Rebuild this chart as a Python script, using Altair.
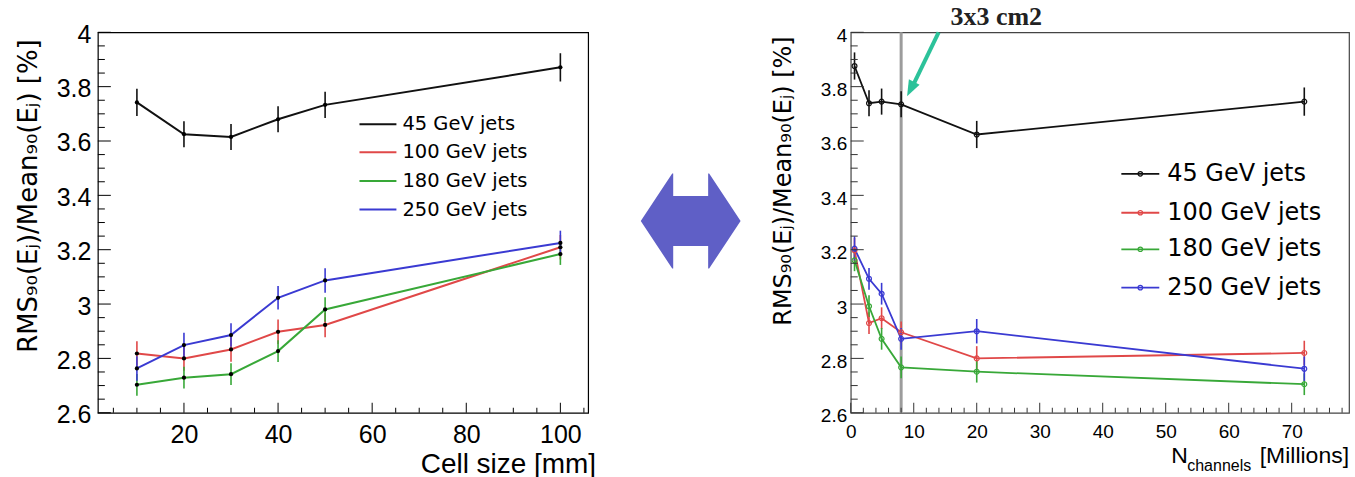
import altair as alt
import pandas as pd

FONT = "DejaVu Sans"
TICKFONT = "Liberation Sans"

# ---------------- data ----------------
series = ["45 GeV jets", "100 GeV jets", "180 GeV jets", "250 GeV jets"]
colors = ["#111111", "#e04848", "#38a838", "#3a3ad2"]

cell_size = [10, 20, 30, 40, 50, 100]
left_45 = [3.742, 3.625, 3.615, 3.680, 3.733, 3.871]
left_100 = [2.818, 2.800, 2.833, 2.898, 2.923, 3.209]
left_180 = [2.703, 2.729, 2.742, 2.827, 2.980, 3.184]
left_250 = [2.763, 2.849, 2.886, 3.023, 3.087, 3.225]
left_err_45 = [0.050, 0.048, 0.048, 0.048, 0.048, 0.052]
left_err_100 = [0.045, 0.045, 0.045, 0.045, 0.045, 0.045]
left_err_180 = [0.040, 0.040, 0.040, 0.040, 0.045, 0.040]
left_err_250 = [0.045, 0.045, 0.043, 0.043, 0.045, 0.045]

n_channels = [0.6, 2.9, 4.9, 8.0, 20.0, 72.0]
right_45 = [3.876, 3.739, 3.745, 3.735, 3.624, 3.745]
right_100 = [3.198, 2.930, 2.948, 2.896, 2.800, 2.820]
right_180 = [3.161, 2.992, 2.872, 2.767, 2.751, 2.705]
right_250 = [3.204, 3.093, 3.038, 2.872, 2.900, 2.762]
right_err_45 = [0.050, 0.048, 0.048, 0.048, 0.050, 0.052]
right_err_100 = [0.045, 0.040, 0.040, 0.040, 0.045, 0.045]
right_err_180 = [0.040, 0.040, 0.040, 0.040, 0.040, 0.040]
right_err_250 = [0.045, 0.040, 0.040, 0.040, 0.045, 0.045]

y_major = [2.6, 2.8, 3.0, 3.2, 3.4, 3.6, 3.8, 4.0]
y_minor = [round(2.6 + 0.05 * i, 2) for i in range(29) if i % 4]
left_x_major = [20, 40, 60, 80, 100]
left_x_minor = [v for v in range(5, 106, 5) if v % 20]
right_x_major = [0, 10, 20, 30, 40, 50, 60, 70]
right_x_minor = [v for v in range(2, 79, 2) if v % 10]

y_title = "RMS\u2089\u2080(E\u2c7c)/Mean\u2089\u2080(E\u2c7c) [%]"

# annotation (data coordinates of the right panel)
marker_line_x = [8.0]
arrow_tail = (13.95, 4.0)
arrow_end = (10.0, 3.81)
arrow_head = (9.51, 3.791)


def long_df(xs, ys, errs):
    rows = []
    for s, yv, ev in zip(series, ys, errs):
        for x, y, e in zip(xs, yv, ev):
            rows.append({"series": s, "x": x, "y": y, "lo": y - e, "hi": y + e})
    return pd.DataFrame(rows)


left_df = long_df(cell_size, [left_45, left_100, left_180, left_250],
                  [left_err_45, left_err_100, left_err_180, left_err_250])
right_df = long_df(n_channels, [right_45, right_100, right_180, right_250],
                   [right_err_45, right_err_100, right_err_180, right_err_250])

one = pd.DataFrame({"a": [0]})
color_enc = alt.Color("series:N", scale=alt.Scale(domain=series, range=colors), legend=None)

W_L, W_R, H = 491, 499, 381
ysc = alt.Scale(domain=[2.6, 4.0], nice=False, zero=False)


def panel(df, xdom, xmajor, xminor, lab_fs, xpad, ypad, yoff, right):
    xsc = alt.Scale(domain=xdom, nice=False, zero=False)
    xaxis = alt.Axis(values=xmajor, ticks=False, domain=False, grid=False, title=None,
                     labelFont=TICKFONT, labelFontSize=lab_fs, labelPadding=xpad,
                     labelColor="black", labelFlush=False, labelOverlap=False)
    yaxis = alt.Axis(values=y_major, format=".1~f", ticks=False, domain=False, grid=False,
                     title=None, labelFont=TICKFONT, labelFontSize=lab_fs, labelPadding=ypad,
                     labelOffset=yoff, labelColor="black", labelFlush=False, labelOverlap=False)
    X = lambda f: alt.X(f, scale=xsc, axis=xaxis)
    Y = lambda f: alt.Y(f, scale=ysc, axis=yaxis)
    base = alt.Chart(df)
    layers = []
    err = base.mark_rule(strokeWidth=1.6).encode(x=X("x:Q"), y=Y("lo:Q"), y2="hi:Q", color=color_enc)
    line = base.mark_line(strokeWidth=2 if not right else 1.8).encode(
        x=X("x:Q"), y=Y("y:Q"), color=color_enc, detail="series:N")
    if right:
        pts = base.mark_point(shape="circle", filled=False, size=24, strokeWidth=1.2, opacity=1).encode(
            x=X("x:Q"), y=Y("y:Q"), color=color_enc)
    else:
        pts = base.mark_circle(size=18, color="black", opacity=1).encode(x=X("x:Q"), y=Y("y:Q"))
    layers += [err, line, pts]
    # inward ticks
    tick_col = "black" if not right else "#333333"
    layers.append(alt.Chart(pd.DataFrame({"v": y_major})).mark_rule(color=tick_col, strokeWidth=1).encode(
        y=Y("v:Q"), x=alt.value(0), x2=alt.value(13)))
    layers.append(alt.Chart(pd.DataFrame({"v": y_minor})).mark_rule(color=tick_col, strokeWidth=1).encode(
        y=Y("v:Q"), x=alt.value(0), x2=alt.value(7)))
    layers.append(alt.Chart(pd.DataFrame({"v": xmajor})).mark_rule(color=tick_col, strokeWidth=1).encode(
        x=X("v:Q"), y=alt.value(H), y2=alt.value(H - 10)))
    layers.append(alt.Chart(pd.DataFrame({"v": xminor})).mark_rule(color=tick_col, strokeWidth=1).encode(
        x=X("v:Q"), y=alt.value(H), y2=alt.value(H - 5)))
    return layers, X, Y


# ---------------- left panel ----------------
L_layers, LX, LY = panel(left_df, [1.7, 105.9], left_x_major, left_x_minor, 25, 10, 7, 2, False)

# legend (left)
leg_rows_L = [92, 120, 149, 177.5]
for s, c, ry in zip(series, colors, leg_rows_L):
    L_layers.append(alt.Chart(one).mark_rule(color=c, strokeWidth=2).encode(
        x=alt.value(262), x2=alt.value(299), y=alt.value(ry)))
    L_layers.append(alt.Chart(one).mark_text(text=s, font=FONT, fontSize=19.5, align="left",
                                             baseline="middle", color="black").encode(
        x=alt.value(305), y=alt.value(ry)))

# axis titles (left)
L_layers.append(alt.Chart(one).mark_text(text=y_title, font=FONT, fontSize=26, angle=270,
                                         align="center", baseline="middle", color="black").encode(
    x=alt.value(-69), y=alt.value(164)))
L_layers.append(alt.Chart(one).mark_text(text="Cell size [mm]", font=TICKFONT, fontSize=28,
                                         align="right", baseline="alphabetic", color="black").encode(
    x=alt.value(W_L + 8), y=alt.value(441)))

# double arrow between panels
dbl = ("M-1,0 L-0.37,-0.95 L-0.35,-0.95 L-0.35,-0.5 L0.35,-0.5 L0.35,-0.95 L0.37,-0.95 "
       "L1,0 L0.37,0.95 L0.35,0.95 L0.35,0.5 L-0.35,0.5 L-0.35,0.95 L-0.37,0.95 Z")
L_layers.append(alt.Chart(one).mark_point(shape=dbl, filled=True, size=10000, color="#5f5fc6",
                                          opacity=1, strokeWidth=0).encode(
    x=alt.value(690.7 - 97), y=alt.value(220 - 31)))

# invisible page anchor so that the page is exactly 1355 x 477
L_layers.append(alt.Chart(one).mark_rect(opacity=0, fillOpacity=0).encode(
    x=alt.value(-97), x2=alt.value(1355 - 97), y=alt.value(-31), y2=alt.value(477 - 31)))

left = alt.layer(*L_layers).properties(
    width=W_L, height=H, view=alt.ViewBackground(stroke="black", strokeWidth=1.2))

# ---------------- right panel ----------------
R_layers, RX, RY = panel(right_df, [0, 79.1], right_x_major, right_x_minor, 19, 10, 4, 3, True)

# grey vertical marker line
R_layers.insert(0, alt.Chart(pd.DataFrame({"x": marker_line_x})).mark_rule(
    color="#9c9c9c", strokeWidth=3).encode(x=RX("x:Q"), y=alt.value(0), y2=alt.value(H)))

# teal arrow
ar = pd.DataFrame({"x": [arrow_tail[0]], "y": [arrow_tail[1]],
                   "x2": [arrow_end[0]], "y2": [arrow_end[1]]})
R_layers.append(alt.Chart(ar).mark_rule(color="#2cc29a", strokeWidth=4).encode(
    x=RX("x:Q"), y=RY("y:Q"), x2="x2:Q", y2="y2:Q"))
R_layers.append(alt.Chart(pd.DataFrame({"x": [arrow_head[0]], "y": [arrow_head[1]]})).mark_point(
    shape="M0,-1 L-0.75,1 L0.75,1 Z", filled=True, size=256, angle=206.6, color="#2cc29a",
    opacity=1, strokeWidth=0).encode(x=RX("x:Q"), y=RY("y:Q")))
R_layers.append(alt.Chart(one).mark_text(text="3x3 cm2", font="Liberation Serif", fontWeight="bold",
                                         fontSize=26, align="center", baseline="alphabetic",
                                         color="#222222").encode(
    x=alt.value(996.7 - 851), y=alt.value(24 - 31)))

# legend (right)
leg_rows_R = [141.7, 180.7, 217.3, 255.7]
for s, c, ry in zip(series, colors, leg_rows_R):
    R_layers.append(alt.Chart(one).mark_rule(color=c, strokeWidth=1.8).encode(
        x=alt.value(271), x2=alt.value(309), y=alt.value(ry)))
    R_layers.append(alt.Chart(one).mark_point(shape="circle", filled=False, size=20, color=c,
                                              strokeWidth=1.2, opacity=1).encode(
        x=alt.value(290), y=alt.value(ry)))
    R_layers.append(alt.Chart(one).mark_text(text=s, font=FONT, fontSize=24, align="left",
                                             baseline="middle", color="black").encode(
        x=alt.value(317), y=alt.value(ry)))

# axis titles (right)
R_layers.append(alt.Chart(one).mark_text(text=y_title, font=FONT, fontSize=24, angle=270,
                                         align="center", baseline="middle", color="black").encode(
    x=alt.value(-67), y=alt.value(149)))
R_layers.append(alt.Chart(one).mark_text(text="N", font=TICKFONT, fontSize=23, align="left",
                                         baseline="alphabetic", color="black").encode(
    x=alt.value(321), y=alt.value(431)))
R_layers.append(alt.Chart(one).mark_text(text="channels", font=TICKFONT, fontSize=16, align="left",
                                         baseline="alphabetic", color="black").encode(
    x=alt.value(337), y=alt.value(439)))
R_layers.append(alt.Chart(one).mark_text(text="[Millions]", font=TICKFONT, fontSize=23, align="right",
                                         baseline="alphabetic", color="black").encode(
    x=alt.value(W_R), y=alt.value(431)))

right = alt.layer(*R_layers).properties(
    width=W_R, height=H, view=alt.ViewBackground(stroke="#444444", strokeWidth=1.2))

chart = alt.hconcat(left, right, spacing=263, bounds="flush").properties(
    padding=0).configure(font=FONT)

chart.save("out.html", embed_options={"renderer": "svg", "actions": False})
